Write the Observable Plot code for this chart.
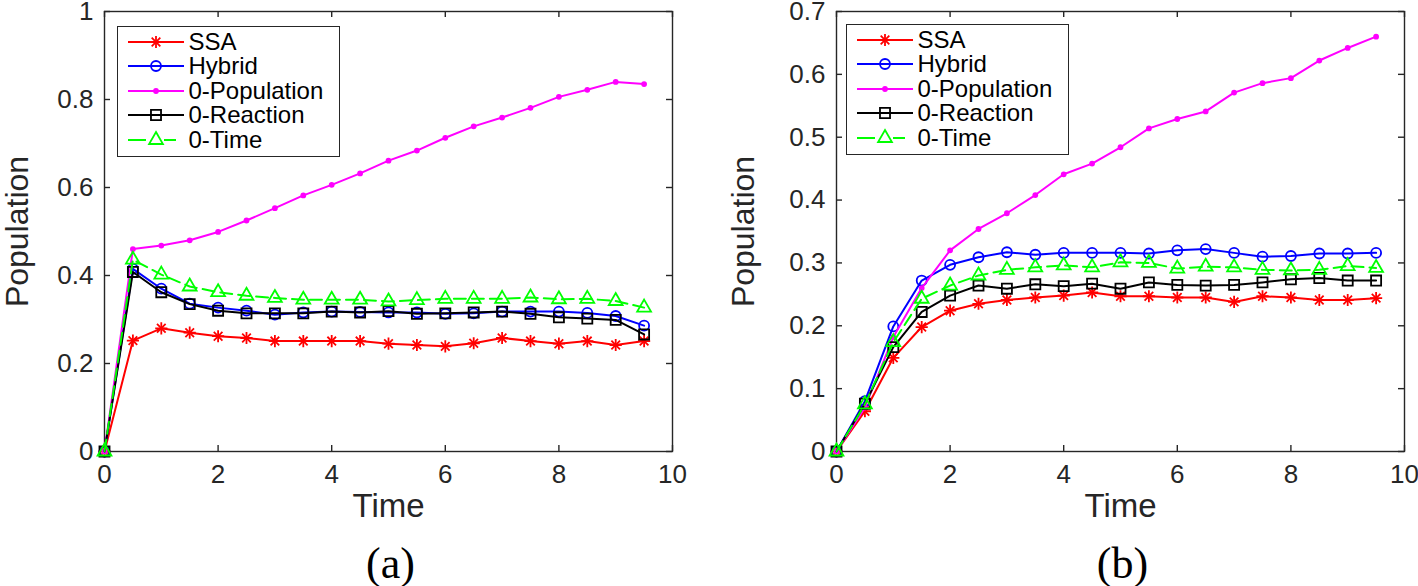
<!DOCTYPE html>
<html><head><meta charset="utf-8">
<script src="https://cdn.jsdelivr.net/npm/d3@7"></script>
<script src="https://cdn.jsdelivr.net/npm/@observablehq/plot@0.6"></script>
<style>
body{margin:0;background:#fff;}
#wrap{position:relative;width:1418px;height:586px;overflow:hidden;font-family:"Liberation Sans",Arial,sans-serif;background:#fff;}
.panel{position:absolute;top:0;}
.legend{position:absolute;background:#fff;border:1.5px solid #262626;box-sizing:border-box;width:223px;height:131px;}
.legend .lab{position:absolute;font-size:24px;line-height:24px;height:24px;color:#000;white-space:nowrap;}
.legend svg{position:absolute;overflow:visible;}
</style></head>
<body><div id="wrap"></div>
<script>
// ---- data ----
const times = [0,0.5,1,1.5,2,2.5,3,3.5,4,4.5,5,5.5,6,6.5,7,7.5,8,8.5,9,9.5];
const seriesNames = ["SSA","Hybrid","0-Population","0-Reaction","0-Time"];
const xTicks = [0,2,4,6,8,10];
const yTicksA = [0,0.2,0.4,0.6,0.8,1];
const yTicksB = [0,0.1,0.2,0.3,0.4,0.5,0.6,0.7];

const ssaA    = [0,0.252,0.280,0.270,0.262,0.258,0.251,0.251,0.251,0.251,0.245,0.242,0.239,0.246,0.258,0.251,0.245,0.251,0.242,0.251];
const hybridA = [0,0.415,0.370,0.336,0.327,0.320,0.311,0.316,0.318,0.317,0.316,0.316,0.313,0.314,0.318,0.318,0.318,0.315,0.308,0.286];
const popA    = [0,0.460,0.468,0.480,0.499,0.525,0.553,0.582,0.606,0.632,0.661,0.684,0.713,0.739,0.759,0.781,0.806,0.822,0.840,0.835];
const reactA  = [0,0.408,0.362,0.335,0.320,0.314,0.314,0.314,0.318,0.316,0.319,0.313,0.314,0.316,0.318,0.313,0.305,0.302,0.299,0.266];
const timeA   = [0,0.436,0.402,0.375,0.362,0.354,0.349,0.345,0.345,0.345,0.341,0.344,0.347,0.347,0.347,0.350,0.346,0.347,0.342,0.327];

const ssaB    = [0,0.064,0.149,0.198,0.224,0.235,0.241,0.245,0.248,0.253,0.247,0.247,0.245,0.245,0.238,0.247,0.245,0.241,0.241,0.244];
const hybridB = [0,0.080,0.199,0.272,0.297,0.309,0.317,0.313,0.316,0.316,0.316,0.315,0.320,0.322,0.316,0.310,0.311,0.315,0.315,0.316];
const popB    = [0,0.070,0.182,0.260,0.320,0.354,0.379,0.408,0.441,0.458,0.484,0.514,0.529,0.541,0.571,0.586,0.594,0.622,0.642,0.660];
const reactB  = [0,0.076,0.166,0.222,0.248,0.264,0.259,0.266,0.263,0.267,0.259,0.269,0.265,0.264,0.265,0.269,0.274,0.276,0.272,0.272];
const timeB   = [0,0.075,0.174,0.243,0.264,0.280,0.289,0.293,0.296,0.293,0.301,0.300,0.291,0.294,0.293,0.289,0.288,0.289,0.295,0.292];

// ---- styles ----
const AX = "#262626";
const styles = [
  {color:"#ff0000", symbols:["plus","times"], r:4, fill:"none", dash:null},
  {color:"#0000ff", symbols:["circle"], r:5, fill:"none", dash:null},
  {color:"#ff00ff", symbols:["circle"], r:2, fill:"#ff00ff", dash:null},
  {color:"#000000", symbols:["square2"], r:6.4, fill:"none", dash:null},
  {color:"#00ff00", symbols:["triangle2"], r:6.6, fill:"none", dash:"12,6"}
];
const PW = 568, PH = 440;

function panel({series, yDomain, yTicks, caption, marginLeft, marginRight, ylabDx}) {
  const marks = [];
  marks.push(Plot.frame({stroke: AX, strokeWidth: 1.4}));
  marks.push(Plot.tickX(xTicks, {x: d => d, insetTop: PH - 6, stroke: AX, strokeWidth: 1.4}));
  marks.push(Plot.tickX(xTicks, {x: d => d, insetBottom: PH - 6, stroke: AX, strokeWidth: 1.4}));
  marks.push(Plot.tickY(yTicks, {y: d => d, insetRight: PW - 6, stroke: AX, strokeWidth: 1.4}));
  marks.push(Plot.tickY(yTicks, {y: d => d, insetLeft: PW - 6, stroke: AX, strokeWidth: 1.4}));
  marks.push(Plot.axisX({ticks: xTicks, tickSize: 0, tickPadding: 13, label: null, fontSize: 26, fill: AX, tickFormat: d3.format("~g")}));
  marks.push(Plot.axisY({ticks: yTicks, tickSize: 0, tickPadding: 11, label: null, fontSize: 26, fill: AX, tickFormat: d3.format("~g")}));
  series.forEach((vals, i) => {
    const st = styles[i];
    const data = times.map((t, k) => ({t, v: vals[k]}));
    marks.push(Plot.line(data, {x: "t", y: "v", stroke: st.color, strokeWidth: 2, strokeDasharray: st.dash}));
    st.symbols.forEach(sym => {
      marks.push(Plot.dot(data, {x: "t", y: "v", symbol: sym, r: st.r, stroke: st.color, fill: st.fill, strokeWidth: 1.8}));
    });
  });
  marks.push(Plot.text(["Time"], {frameAnchor: "bottom", dy: 65, lineAnchor: "bottom", textAnchor: "middle", fontSize: 33, fill: AX}));
  marks.push(Plot.text([caption], {frameAnchor: "bottom", dy: 126, dx: 2, lineAnchor: "bottom", textAnchor: "middle", fontSize: 44, fill: "#000", fontFamily: "Liberation Serif, Times New Roman, serif"}));
  marks.push(Plot.text(["Population"], {frameAnchor: "left", dx: ylabDx, rotate: -90, lineAnchor: "bottom", textAnchor: "middle", fontSize: 32, fill: AX}));
  return Plot.plot({
    width: 709, height: 586,
    marginLeft, marginRight, marginTop: 11, marginBottom: 135,
    x: {domain: [0, 10]},
    y: {domain: yDomain},
    style: {fontFamily: "'Liberation Sans', Arial, sans-serif", background: "transparent", overflow: "visible"},
    marks
  });
}

function legend(left, top) {
  const div = document.createElement("div");
  div.className = "legend";
  div.style.left = left + "px";
  div.style.top = top + "px";
  const rowY = [16, 40.5, 65, 89.5, 114];
  const symMap = {plus: d3.symbolPlus, times: d3.symbolTimes, circle: d3.symbolCircle, square2: d3.symbolSquare2, triangle2: d3.symbolTriangle2};
  seriesNames.forEach((name, i) => {
    const st = styles[i];
    const cy = rowY[i] - 1.5;
    const svg = d3.create("svg").attr("width", 60).attr("height", 24)
      .style("left", "9.5px").style("top", (cy - 12) + "px");
    if (st.dash) {
      svg.append("line").attr("x1", 0).attr("x2", 48).attr("y1", 12).attr("y2", 12)
        .attr("stroke", st.color).attr("stroke-width", 2).attr("stroke-dasharray", "18,18");
    } else {
      svg.append("line").attr("x1", 0).attr("x2", 56).attr("y1", 12).attr("y2", 12)
        .attr("stroke", st.color).attr("stroke-width", 2);
    }
    st.symbols.forEach(sym => {
      if (sym === "circle") {
        svg.append("circle").attr("cx", 28).attr("cy", 12).attr("r", st.r)
          .attr("fill", st.fill).attr("stroke", st.color).attr("stroke-width", 1.8);
      } else {
        svg.append("path").attr("transform", "translate(28,12)")
          .attr("d", d3.symbol(symMap[sym], Math.PI * st.r * st.r)())
          .attr("fill", "none").attr("stroke", st.color).attr("stroke-width", 1.8);
      }
    });
    div.appendChild(svg.node());
    const lab = document.createElement("div");
    lab.className = "lab";
    lab.textContent = name;
    lab.style.left = "70.5px";
    lab.style.top = (cy - 12) + "px";
    div.appendChild(lab);
  });
  return div;
}

const wrap = document.getElementById("wrap");
const pA = panel({series: [ssaA, hybridA, popA, reactA, timeA], yDomain: [0, 1], yTicks: yTicksA, caption: "(a)", marginLeft: 104, marginRight: 37, ylabDx: -77});
pA.classList.add("panel"); pA.style.left = "0px";
const pB = panel({series: [ssaB, hybridB, popB, reactB, timeB], yDomain: [0, 0.7], yTicks: yTicksB, caption: "(b)", marginLeft: 127, marginRight: 14, ylabDx: -83});
pB.classList.add("panel"); pB.style.left = "709px";
wrap.appendChild(pA);
wrap.appendChild(pB);
wrap.appendChild(legend(117, 26));
wrap.appendChild(legend(846, 24));
</script>
</body></html>
